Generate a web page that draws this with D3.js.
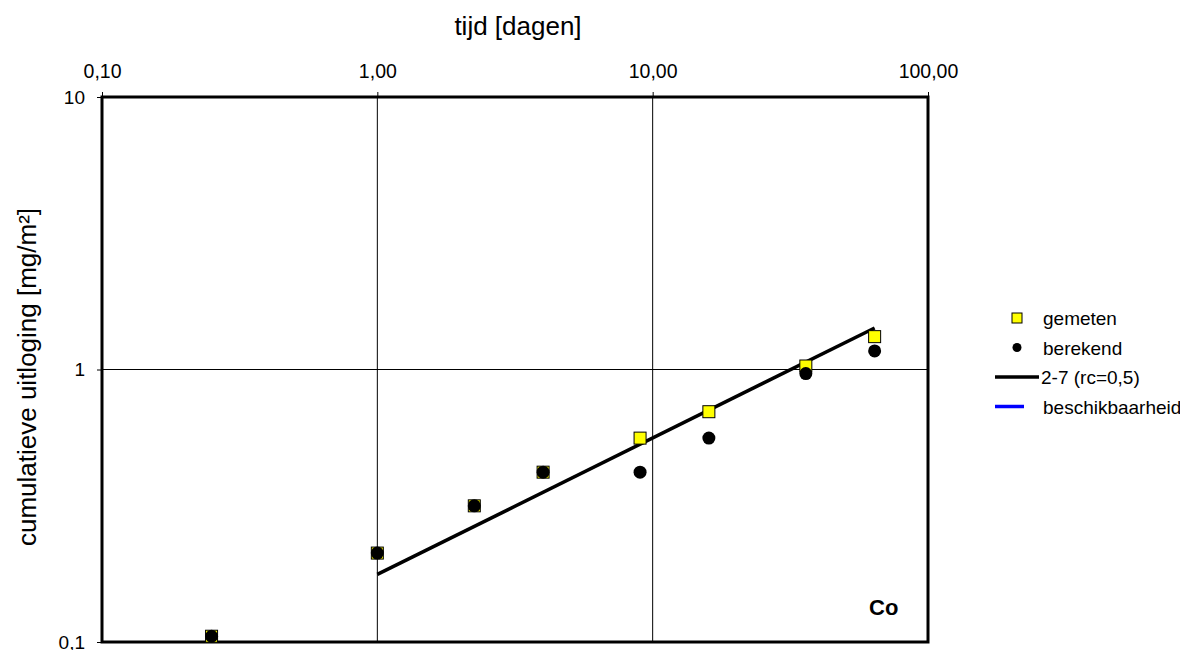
<!DOCTYPE html>
<html>
<head>
<meta charset="utf-8">
<script src="https://cdn.jsdelivr.net/npm/d3@7"></script>
<style>
  body { margin: 0; background: #fff; }
  text { font-family: Arial, "Liberation Sans", sans-serif; fill: #000; }
</style>
</head>
<body>
<div id="chart"></div>
<script>
// data
var tijd = [0.25, 1, 2.25, 4, 9, 16, 36, 64];
var gemeten = [0.105, 0.212, 0.316, 0.42, 0.56, 0.70, 1.03, 1.32];
var berekend = [0.105, 0.212, 0.316, 0.42, 0.42, 0.56, 0.966, 1.17];
var lijnTijd = [1, 64];
var lijnWaarde = [0.177, 1.42];
var xTicks = [0.1, 1, 10, 100];
var yTicks = [0.1, 1, 10];
var legendLabels = ["gemeten", "berekend", "2-7 (rc=0,5)", "beschikbaarheid"];

// set the dimensions and margins of the graph
var margin = {top: 97, right: 252, bottom: 8, left: 102},
    width = 1180 - margin.left - margin.right,
    height = 650 - margin.top - margin.bottom;

var root = d3.select("#chart")
  .append("svg")
    .attr("width", 1180)
    .attr("height", 650);

var svg = root.append("g")
    .attr("transform", "translate(" + margin.left + "," + margin.top + ")");

var x = d3.scaleLog().domain([0.1, 100]).range([0, width]);
var y = d3.scaleLog().domain([0.1, 10]).range([height, 0]);

// gridlines
svg.selectAll("vgrid")
  .data([1, 10])
  .enter().append("line")
    .attr("x1", function(d) { return x(d); })
    .attr("x2", function(d) { return x(d); })
    .attr("y1", 0).attr("y2", height)
    .attr("stroke", "#000").attr("stroke-width", 1);
svg.selectAll("hgrid")
  .data([1])
  .enter().append("line")
    .attr("x1", 0).attr("x2", width)
    .attr("y1", function(d) { return y(d); })
    .attr("y2", function(d) { return y(d); })
    .attr("stroke", "#000").attr("stroke-width", 1);

// top X axis
var xAxis = svg.append("g")
  .call(d3.axisTop(x)
    .tickValues(xTicks)
    .tickSize(5)
    .tickPadding(14)
    .tickFormat(function(d) { return d3.format(".2f")(d).replace(".", ","); }));
xAxis.select(".domain").remove();
xAxis.selectAll("text").style("font-size", "19.5px").attr("font-family", null);

// left Y axis
var yAxis = svg.append("g")
  .call(d3.axisLeft(y)
    .tickValues(yTicks)
    .tickSize(5)
    .tickPadding(12)
    .tickFormat(function(d) { return String(d).replace(".", ","); }));
yAxis.select(".domain").remove();
yAxis.selectAll("text").style("font-size", "19px").attr("font-family", null);

// frame
svg.append("rect")
  .attr("x", 0).attr("y", 0)
  .attr("width", width).attr("height", height)
  .attr("fill", "none")
  .attr("stroke", "#000")
  .attr("stroke-width", 3);

// fitted line
var lijn = lijnTijd.map(function(t, i) { return [t, lijnWaarde[i]]; });
svg.append("path")
  .datum(lijn)
  .attr("fill", "none")
  .attr("stroke", "#000")
  .attr("stroke-width", 3.5)
  .attr("d", d3.line()
    .x(function(d) { return x(d[0]); })
    .y(function(d) { return y(d[1]); }));

// gemeten squares
var sq = 12;
svg.selectAll("sq")
  .data(tijd)
  .enter().append("rect")
    .attr("x", function(d) { return x(d) - sq / 2; })
    .attr("y", function(d, i) { return y(gemeten[i]) - sq / 2; })
    .attr("width", sq).attr("height", sq)
    .attr("fill", "#ffff00")
    .attr("stroke", "#000").attr("stroke-width", 1);

// berekend circles
svg.selectAll("dot")
  .data(tijd)
  .enter().append("circle")
    .attr("cx", function(d) { return x(d); })
    .attr("cy", function(d, i) { return y(berekend[i]); })
    .attr("r", 6.5)
    .attr("fill", "#000");

// element label
svg.append("text")
  .attr("x", width - 59).attr("y", height - 27)
  .style("font-size", "22px")
  .style("font-weight", "bold")
  .text("Co");

// axis titles
root.append("text")
  .attr("x", 518).attr("y", 35)
  .attr("text-anchor", "middle")
  .style("font-size", "26px")
  .text("tijd [dagen]");

root.append("text")
  .attr("transform", "translate(36,377)rotate(-90)")
  .attr("text-anchor", "middle")
  .style("font-size", "26px")
  .text("cumulatieve uitloging [mg/m²]");

// legend
var leg = root.append("g").attr("transform", "translate(995,318)");
var rowH = 29.5;
leg.append("rect")
  .attr("x", 17).attr("y", -5).attr("width", 10).attr("height", 10)
  .attr("fill", "#ffff00").attr("stroke", "#000").attr("stroke-width", 1);
leg.append("circle")
  .attr("cx", 22).attr("cy", rowH).attr("r", 4.5).attr("fill", "#000");
leg.append("line")
  .attr("x1", 0).attr("x2", 44).attr("y1", rowH * 2).attr("y2", rowH * 2)
  .attr("stroke", "#000").attr("stroke-width", 3.5);
leg.append("line")
  .attr("x1", 0).attr("x2", 29).attr("y1", rowH * 3).attr("y2", rowH * 3)
  .attr("stroke", "#0000ff").attr("stroke-width", 3.5);
leg.selectAll("lbl")
  .data(legendLabels)
  .enter().append("text")
    .attr("x", function(d, i) { return i == 2 ? 46 : 48; })
    .attr("y", function(d, i) { return i * rowH + 7; })
    .style("font-size", "19px")
    .text(function(d) { return d; });
</script>
</body>
</html>
